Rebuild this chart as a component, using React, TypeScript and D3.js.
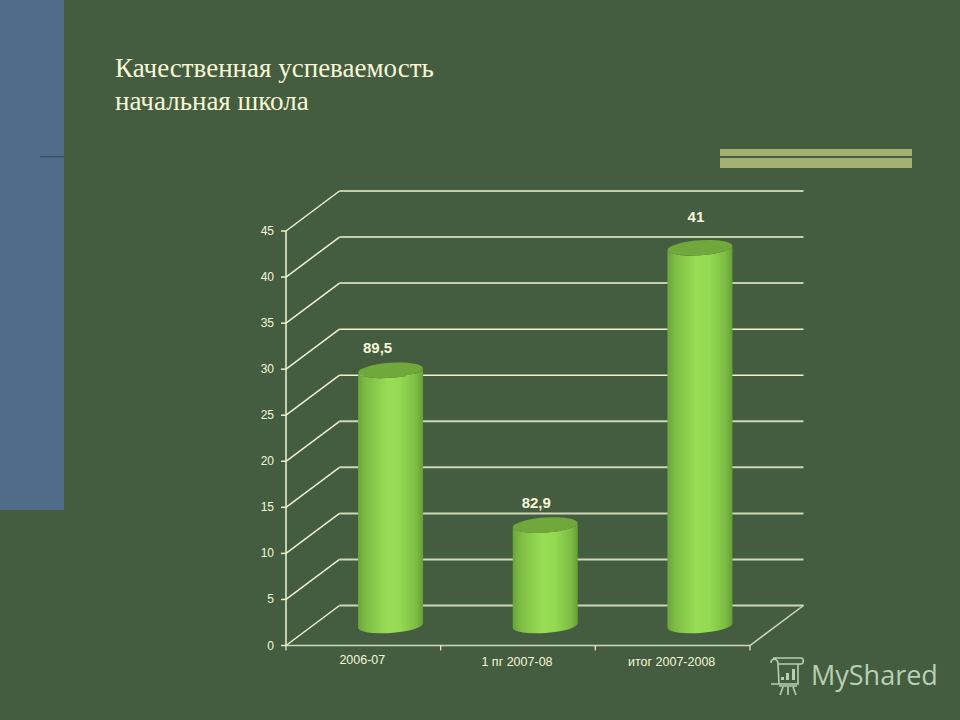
import * as d3 from 'd3'

const categories = ['2006-07', '1 пг 2007-08', 'итог 2007-2008']
const heights = [27.7, 10.9, 41]
const barLabels = ['89,5', '82,9', '41']
const labelGaps = [17, 17, 26]
const ticks = [0, 5, 10, 15, 20, 25, 30, 35, 40, 45]
const titleLines = ['Качественная успеваемость', 'начальная школа']

const BG = '#445c40'
const LINE = '#eef3cf'
const LINE_DIM = '#cdd8b6'
const TEXT = '#f6f8d6'
const MARK = '#b6d0b4'

const depth = { x: 53.5, y: -40 }
const x = d3.scaleBand<string>().domain(categories).range([286, 750])
const y = d3.scaleLinear().domain([0, 45]).range([645.5, 231])
const barW = 65
const rx = barW / 2
const ry = 7.5
const tilt = -4

const App = () => {
  const rad = (tilt * Math.PI) / 180
  const dy = rx * Math.sin(rad)
  return (
    <svg width={960} height={720} style={{ position: 'absolute', left: 0, top: 0 }}>
      <defs>
        <linearGradient id="cyl" x1="0" x2="1" y1="0" y2="0">
          <stop offset="0" stopColor="#68a639" />
          <stop offset="0.12" stopColor="#7dbd44" />
          <stop offset="0.45" stopColor="#98dd55" />
          <stop offset="0.65" stopColor="#94da52" />
          <stop offset="0.9" stopColor="#7cbb44" />
          <stop offset="1" stopColor="#649f38" />
        </linearGradient>
      </defs>
      <rect width={960} height={720} fill={BG} />
      <rect x={0} y={0} width={64} height={510} fill="#4f6d88" />
      <rect x={40} y={156} width={24} height={1.5} fill="#3a5560" />
      <rect x={720} y={149} width={192} height={7} fill="#a3b06f" />
      <rect x={720} y={158} width={192} height={10} fill="#a3b06f" />

      {titleLines.map((t, i) => (
        <text key={t} x={115} y={77 + i * 33} fontFamily="Liberation Serif" fontSize={27} fill={TEXT}>
          {t}
        </text>
      ))}

      {ticks.map(t => (
        <g key={t} fill="none" strokeWidth={1.5} stroke={LINE}>
          <path d={`M${x.range()[0]},${y(t)}L${x.range()[0] + depth.x},${y(t) + depth.y}`} />
          <path
            d={`M${x.range()[0] + depth.x},${y(t) + depth.y}H${x.range()[1] + depth.x}`}
            stroke={t <= 20 ? LINE_DIM : LINE}
            strokeWidth={t <= 20 ? 2 : 1.5}
          />
          <line x1={x.range()[0] - 5} x2={x.range()[0]} y1={y(t)} y2={y(t)} />
        </g>
      ))}
      <path
        d={`M${x.range()[0]},${y(45)}V${y(0)}`}
        stroke={LINE}
        strokeWidth={1.5}
        fill="none"
      />
      <path
        d={`M${x.range()[0]},${y(0)}H${x.range()[1]}L${x.range()[1] + depth.x},${y(0) + depth.y}`}
        stroke={LINE_DIM}
        strokeWidth={1.5}
        fill="none"
      />
      {[...categories.map(c => x(c) as number), x.range()[1]].map(px => (
        <line key={px} x1={px} x2={px} y1={y(0)} y2={y(0) + 5} stroke={LINE} strokeWidth={1.2} />
      ))}

      {ticks.map(t => (
        <text
          key={t}
          x={274}
          y={y(t) + 4}
          textAnchor="end"
          fontFamily="Liberation Sans"
          fontSize={12}
          fill={TEXT}
        >
          {t}
        </text>
      ))}

      {categories.map((c, i) => {
        const cx = (x(c) as number) + x.bandwidth() / 2
        return (
          <text
            key={c}
            x={cx - 1}
            y={i === 0 ? 664 : 666}
            textAnchor="middle"
            fontFamily="Liberation Sans"
            fontSize={12.5}
            fill={TEXT}
          >
            {c}
          </text>
        )
      })}

      {categories.map((c, i) => {
        const cx = (x(c) as number) + x.bandwidth() / 2 + depth.x / 2 + 0.5
        const base = y(0) + depth.y / 2
        const top = y(heights[i]) + depth.y / 2
        const body =
          `M${cx - rx},${top - dy}L${cx - rx},${base - dy}` +
          `A${rx},${ry} ${tilt} 0 0 ${cx + rx},${base + dy}` +
          `L${cx + rx},${top + dy}A${rx},${ry} ${tilt} 0 1 ${cx - rx},${top - dy}Z`
        return (
          <g key={c}>
            <path d={body} fill="url(#cyl)" />
            <ellipse
              cx={cx}
              cy={top}
              rx={rx}
              ry={ry}
              fill="#70a83c"
              transform={`rotate(${tilt} ${cx} ${top})`}
            />
            <text
              x={cx - 13 + i * 4 + (i === 2 ? 1 : 0)}
              y={top - labelGaps[i]}
              textAnchor="middle"
              fontFamily="Liberation Sans"
              fontWeight="bold"
              fontSize={15}
              fill={TEXT}
            >
              {barLabels[i]}
            </text>
          </g>
        )
      })}

      <g transform="translate(767,657)" fill="none" stroke={MARK} strokeWidth={1.6}>
        <path d="M4,6C4,1 10,1 11,6L12,27H4M6,1H34C37,1 37,7 34,7H11M31,7V27H10" />
        <path d="M12,29H30M16,30L13,38M21,30V38M26,30L29,38" />
        <rect x={14} y={20} width={3} height={3} fill={MARK} stroke="none" />
        <rect x={19} y={16} width={3} height={7} fill={MARK} stroke="none" />
        <rect x={25} y={12} width={3} height={11} fill={MARK} stroke="none" />
      </g>
      <text x={811} y={685} fontFamily="Open Sans" fontSize={27} fill={MARK}>
        MyShared
      </text>
    </svg>
  )
}

export default App
